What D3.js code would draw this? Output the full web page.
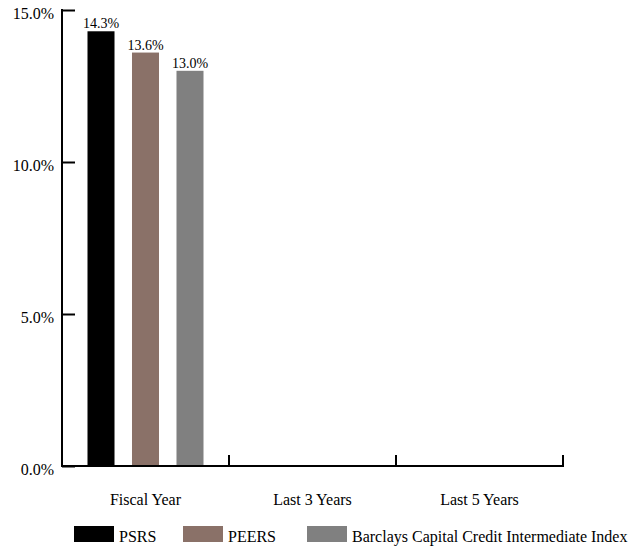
<!DOCTYPE html>
<html><head><meta charset="utf-8">
<script src="https://cdn.jsdelivr.net/npm/d3@7"></script>
<style>body{margin:0;background:#fff}svg{display:block}text{font-family:"Liberation Serif","Times New Roman",serif;fill:#000}</style>
</head><body>
<svg id="c" width="631" height="548"></svg>
<script>
const categories = ["Fiscal Year", "Last 3 Years", "Last 5 Years"];
const seriesNames = ["PSRS", "PEERS", "Barclays Capital Credit Intermediate Index"];
const seriesColors = ["#000000", "#8a7168", "#808080"];
const psrs = [14.3, null, null];
const peers = [13.6, null, null];
const barclays = [13.0, null, null];
const yTicks = [0, 5, 10, 15];

const seriesValues = [psrs, peers, barclays];
const svg = d3.select("#c");
const L = 62, R = 563, T = 10, B = 466;

const x = d3.scaleBand().domain(categories).range([L, R]).paddingInner(0).paddingOuter(0);
const xi = d3.scaleBand().domain(seriesNames).range([0, x.bandwidth()]).paddingInner(0.393).paddingOuter(0.573);
const y = d3.scaleLinear().domain([0, 15]).range([B, T]);

// bars
categories.forEach((c, ci) => {
  seriesNames.forEach((s, si) => {
    const v = seriesValues[si][ci];
    if (v == null) return;
    svg.append("rect")
      .attr("x", x(c) + xi(s)).attr("y", y(v))
      .attr("width", xi.bandwidth()).attr("height", y(0) - y(v))
      .attr("fill", seriesColors[si]);
    svg.append("text")
      .attr("x", x(c) + xi(s) + xi.bandwidth() / 2).attr("y", y(v) - 3)
      .attr("text-anchor", "middle").attr("font-size", 14)
      .text(v.toFixed(1) + "%");
  });
});

// y axis
const yAxis = d3.axisRight(y).tickValues(yTicks).tickSize(13).tickFormat(() => "");
const gy = svg.append("g").attr("transform", `translate(${L},0)`).call(yAxis);
gy.select(".domain").remove();
gy.selectAll(".tick line").attr("stroke", "#000").attr("stroke-width", 2);
svg.append("line").attr("x1", L).attr("x2", L).attr("y1", y(15) - 1).attr("y2", B + 1)
  .attr("stroke", "#000").attr("stroke-width", 2);
yTicks.forEach(t => {
  svg.append("text").attr("x", 54).attr("y", y(t) + 8.5).attr("text-anchor", "end")
    .attr("font-size", 16).text(t.toFixed(1) + "%");
});

// x axis
svg.append("line").attr("x1", L).attr("x2", R + 1).attr("y1", B).attr("y2", B)
  .attr("stroke", "#000").attr("stroke-width", 2);
categories.forEach(c => {
  const xr = x(c) + x.bandwidth();
  svg.append("line").attr("x1", xr).attr("x2", xr).attr("y1", B).attr("y2", B - 11)
    .attr("stroke", "#000").attr("stroke-width", 2);
  svg.append("text").attr("x", x(c) + x.bandwidth() / 2).attr("y", 505)
    .attr("text-anchor", "middle").attr("font-size", 16).text(c);
});

// legend
const legX = [74, 183, 307];
seriesNames.forEach((s, i) => {
  svg.append("rect").attr("x", legX[i]).attr("y", 526).attr("width", 40).attr("height", 16)
    .attr("fill", seriesColors[i]);
  svg.append("text").attr("x", legX[i] + 45).attr("y", 542).attr("font-size", 16).text(s);
});
</script>
</body></html>
